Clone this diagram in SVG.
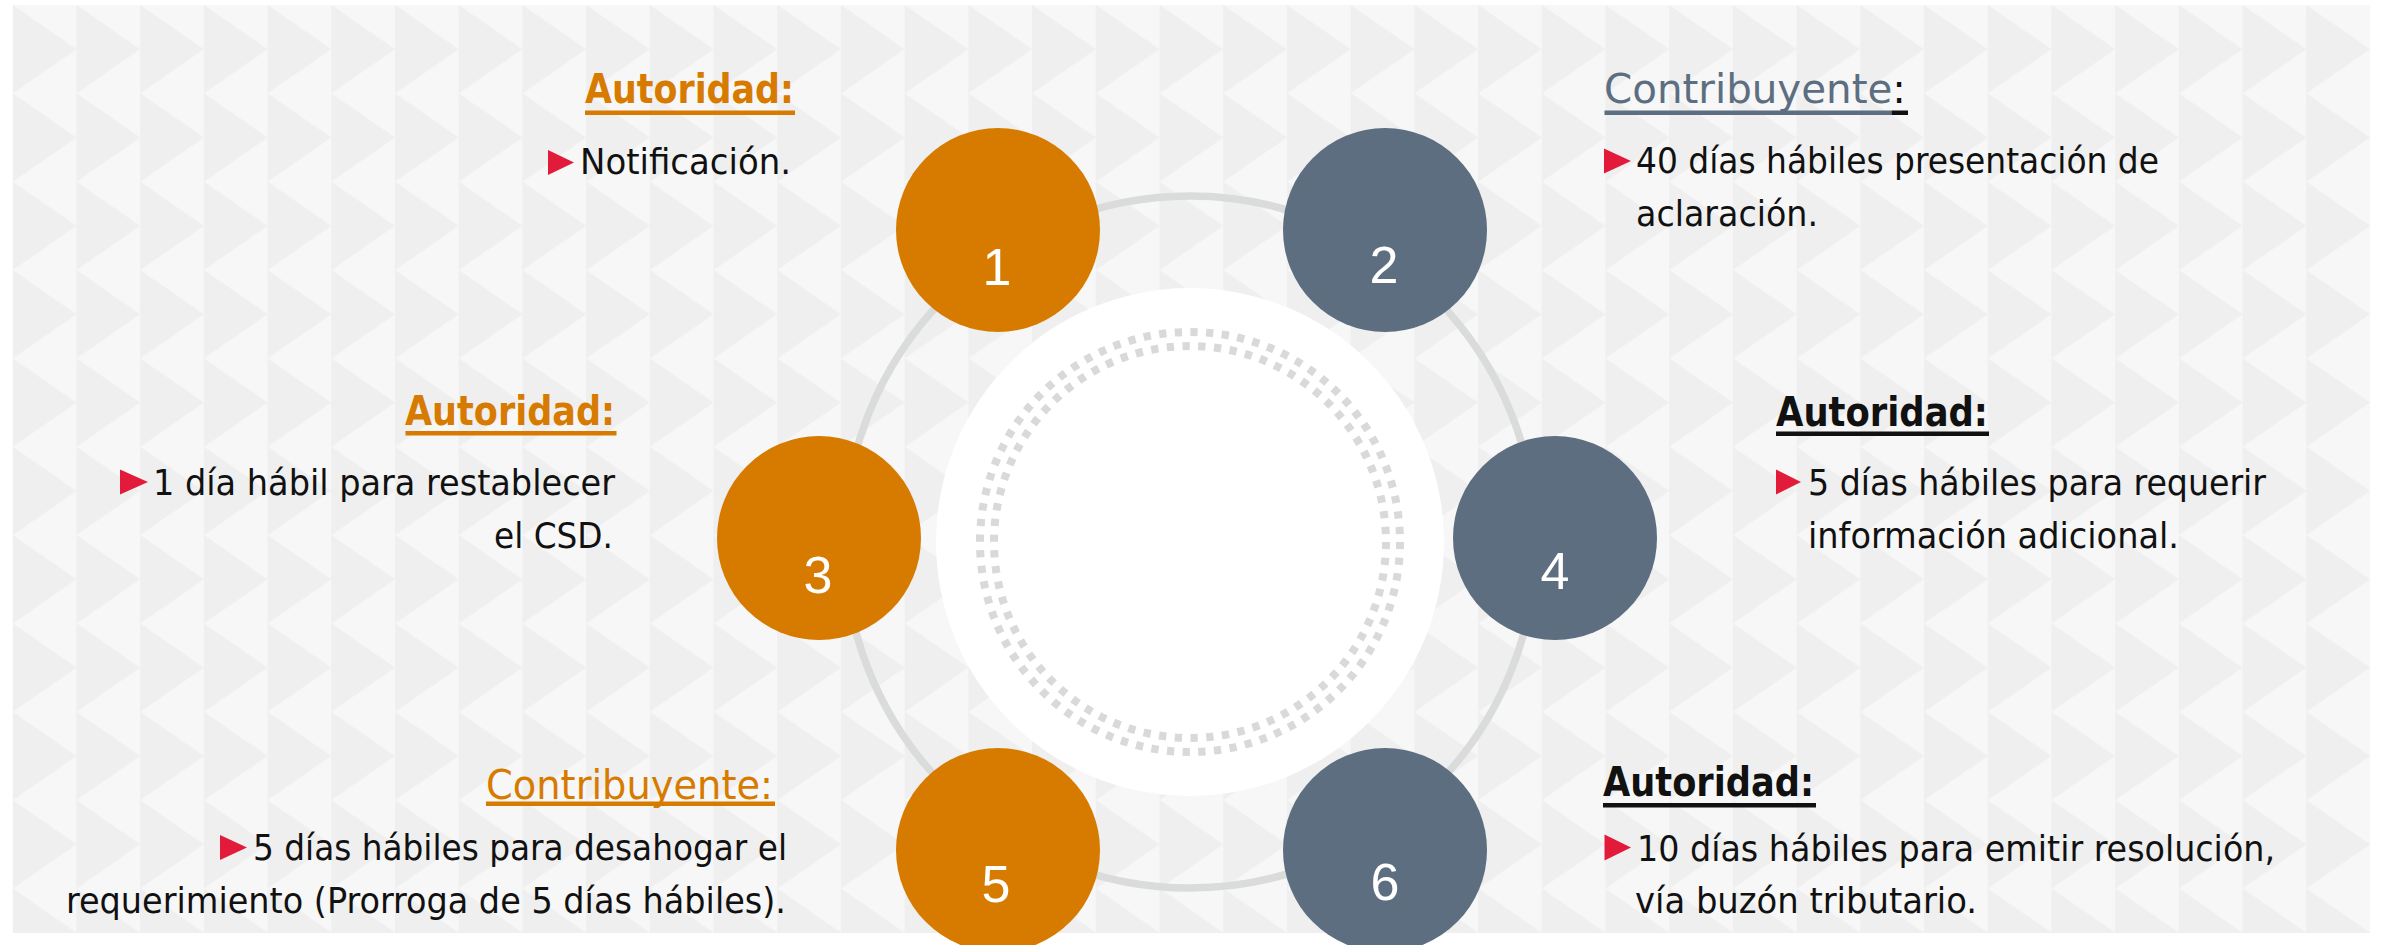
<svg xmlns="http://www.w3.org/2000/svg" width="2382" height="945" viewBox="0 0 2382 945">
<style>
.txt{font-family:"DejaVu Sans Condensed","Liberation Sans Narrow","Liberation Sans",sans-serif;font-size:36px;fill:#111111}
.hdr{font-family:"DejaVu Sans Condensed","Liberation Sans Narrow","Liberation Sans",sans-serif;font-size:41px}
.b{font-weight:bold}
.num{font-family:"Liberation Sans","DejaVu Sans",sans-serif;font-size:52px;fill:#FFFFFF;text-anchor:middle}
.or{fill:#D77B00}
.sl{fill:#5C6E80}
.bk{fill:#111111}
.bul{fill:#E31B3B}
</style>
<defs>
<pattern id="bg" x="12.7" y="5" width="63.71" height="88.35" patternUnits="userSpaceOnUse">
<rect width="63.71" height="88.35" fill="#F7F7F7"/>
<polygon points="0,0 63.71,44.18 0,88.35" fill="#EFEFEF"/>
</pattern>
</defs>
<rect width="2382" height="945" fill="#FFFFFF"/>
<rect x="12.7" y="5" width="2357.3" height="928" fill="url(#bg)"/>

<g id="connectors">
<circle cx="1190" cy="542" r="346" fill="none" stroke="#DADCDB" stroke-width="7.5"/>
</g>

<g id="center">
<circle cx="1190" cy="542" r="254" fill="#FFFFFF"/>
<circle cx="1190" cy="542" r="210" fill="none" stroke="#D9D9D9" stroke-width="8" stroke-dasharray="7.3 8.408"/>
<circle cx="1190" cy="542" r="196" fill="none" stroke="#D9D9D9" stroke-width="8" stroke-dasharray="7.3 8.488"/>
</g>

<g id="step1">
<circle cx="998" cy="230" r="102" class="or"/>
<text x="997" y="285" class="num">1</text>
<text x="585" y="103" class="hdr b or" textLength="209" lengthAdjust="spacingAndGlyphs">Autoridad:</text>
<rect x="585" y="110.5" width="210" height="4.5" class="or"/>
<polygon points="548,150 574,162.5 548,175" class="bul"/>
<text x="580" y="174" class="txt" textLength="211" lengthAdjust="spacingAndGlyphs">Notificación.</text>
</g>

<g id="step2">
<circle cx="1385" cy="230" r="102" class="sl"/>
<text x="1384" y="283" class="num">2</text>
<text x="1604" y="103" class="hdr sl" textLength="302" lengthAdjust="spacingAndGlyphs">Contribuyente<tspan class="bk">:</tspan></text>
<rect x="1604.5" y="110.5" width="287" height="4.5" class="sl"/>
<rect x="1891.5" y="110.5" width="16.5" height="4.5" class="bk"/>
<polygon points="1604,148.5 1631,161 1604,173.5" class="bul"/>
<text x="1636" y="173" class="txt" textLength="523" lengthAdjust="spacingAndGlyphs">40 días hábiles presentación de</text>
<text x="1636" y="226" class="txt" textLength="182" lengthAdjust="spacingAndGlyphs">aclaración.</text>
</g>

<g id="step3">
<circle cx="819" cy="538" r="102" class="or"/>
<text x="818" y="593" class="num">3</text>
<text x="405" y="425" class="hdr b or" textLength="210" lengthAdjust="spacingAndGlyphs">Autoridad:</text>
<rect x="405.5" y="431" width="211" height="4.5" class="or"/>
<polygon points="120,469.5 148,482 120,494.5" class="bul"/>
<text x="153" y="494.5" class="txt" textLength="462" lengthAdjust="spacingAndGlyphs">1 día hábil para restablecer</text>
<text x="494" y="548" class="txt" textLength="119" lengthAdjust="spacingAndGlyphs">el CSD.</text>
</g>

<g id="step4">
<circle cx="1555" cy="538" r="102" class="sl"/>
<text x="1555" y="589" class="num">4</text>
<text x="1776" y="426" class="hdr b bk" textLength="212" lengthAdjust="spacingAndGlyphs">Autoridad:</text>
<rect x="1776" y="431.5" width="213" height="4.5" class="bk"/>
<polygon points="1776,469.5 1801,482 1776,494.5" class="bul"/>
<text x="1808" y="494.5" class="txt" textLength="458" lengthAdjust="spacingAndGlyphs">5 días hábiles para requerir</text>
<text x="1808" y="548" class="txt" textLength="371" lengthAdjust="spacingAndGlyphs">información adicional.</text>
</g>

<g id="step5">
<circle cx="998" cy="850" r="102" class="or"/>
<text x="996" y="902" class="num">5</text>
<text x="486" y="799" class="hdr or" textLength="287" lengthAdjust="spacingAndGlyphs">Contribuyente:</text>
<rect x="486" y="801.5" width="289" height="4.5" class="or"/>
<polygon points="220,835 247,847.5 220,860" class="bul"/>
<text x="253" y="860" class="txt" textLength="534" lengthAdjust="spacingAndGlyphs">5 días hábiles para desahogar el</text>
<text x="66" y="913" class="txt" textLength="720" lengthAdjust="spacingAndGlyphs">requerimiento (Prorroga de 5 días hábiles).</text>
</g>

<g id="step6">
<circle cx="1385" cy="850" r="102" class="sl"/>
<text x="1385" y="900" class="num">6</text>
<text x="1603" y="796" class="hdr b bk" textLength="211" lengthAdjust="spacingAndGlyphs">Autoridad:</text>
<rect x="1603" y="803" width="213" height="4.5" class="bk"/>
<polygon points="1604.5,834.5 1631,847.5 1604.5,860.5" class="bul"/>
<text x="1637" y="860.5" class="txt" textLength="638" lengthAdjust="spacingAndGlyphs">10 días hábiles para emitir resolución,</text>
<text x="1635" y="913" class="txt" textLength="342" lengthAdjust="spacingAndGlyphs">vía buzón tributario.</text>
</g>
</svg>
